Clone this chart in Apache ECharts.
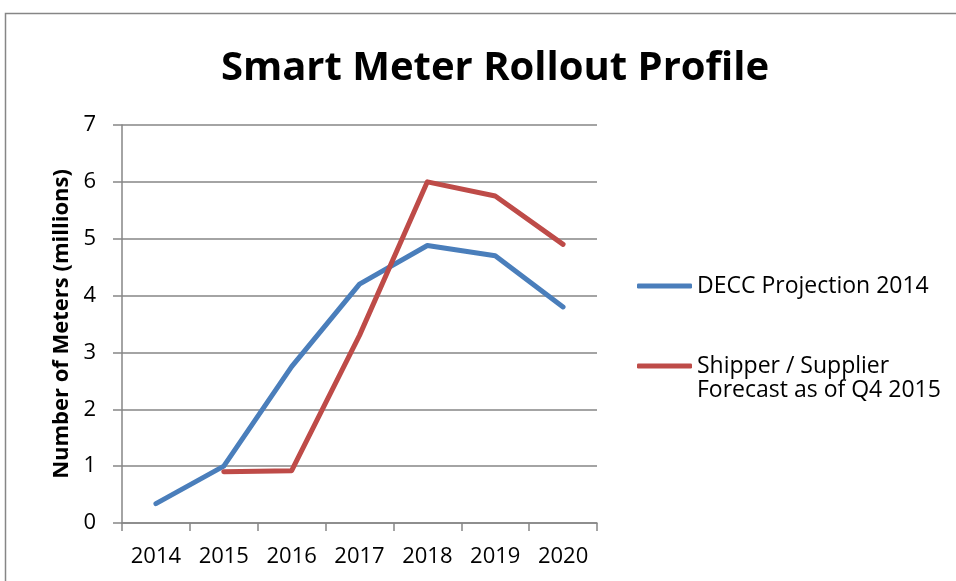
<!DOCTYPE html>
<html>
<head>
<meta charset="utf-8">
<script src="https://cdn.jsdelivr.net/npm/echarts@6/dist/echarts.min.js"></script>
<style>
  html, body { margin: 0; padding: 0; background: #fff; }
  #main { width: 956px; height: 581px; }
</style>
</head>
<body>
<div id="main"></div>
<script>
// values
var years = ['2014', '2015', '2016', '2017', '2018', '2019', '2020'];
var decc = [0.34, 1.0, 2.75, 4.2, 4.88, 4.7, 3.8];
var shipper = [null, 0.9, 0.92, 3.3, 6.0, 5.75, 4.9];
var yTicks = [0, 1, 2, 3, 4, 5, 6, 7];
var deccName = 'DECC Projection 2014';
var shipperName = 'Shipper / Supplier\nForecast as of Q4 2015';

var font = 'Open Sans';
var grey = '#868686';

var chartDom = document.getElementById('main');
var myChart = echarts.init(chartDom);
var option = {
  animation: false,
  textStyle: { fontFamily: font, color: '#000' },
  title: {
    text: 'Smart Meter Rollout Profile',
    left: 490,
    textAlign: 'center',
    top: 44,
    textStyle: { fontFamily: font, fontWeight: 'bold', fontSize: 40, color: '#000' }
  },
  graphic: [{
    type: 'rect',
    shape: { x: 5.5, y: 13.5, width: 1000, height: 700 },
    style: { fill: 'none', stroke: grey, lineWidth: 1.5 },
    silent: true
  }],
  legend: {
    orient: 'vertical',
    left: 637,
    top: 274,
    padding: 0,
    itemWidth: 55,
    itemHeight: 5,
    itemGap: 32,
    icon: 'roundRect',
    textStyle: { fontFamily: font, fontSize: 23, color: '#000', lineHeight: 24 },
    // blank first line keeps the icon level with "Shipper / Supplier"
    formatter: function (name) {
      return name === shipperName ? ' \n' + name : name;
    },
    data: [deccName, shipperName]
  },
  grid: { left: 122, right: 359, top: 125, bottom: 58, containLabel: false },
  xAxis: {
    type: 'category',
    data: years,
    boundaryGap: true,
    axisLine: { lineStyle: { color: grey, width: 1.5 } },
    axisTick: { show: true, length: 8, lineStyle: { color: grey, width: 1.5 } },
    axisLabel: { fontFamily: font, fontSize: 22, color: '#000', margin: 23 },
    splitLine: { show: false }
  },
  yAxis: {
    type: 'value',
    min: 0,
    max: 7,
    interval: 1,
    name: 'Number of Meters (millions)',
    nameLocation: 'middle',
    nameGap: 49,
    nameTextStyle: { fontFamily: font, fontWeight: 'bold', fontSize: 22, color: '#000' },
    axisLine: { show: true, lineStyle: { color: grey, width: 1.5 } },
    axisTick: { show: true, length: 9, lineStyle: { color: grey, width: 1.5 } },
    axisLabel: {
      fontFamily: font, fontSize: 22, color: '#000', margin: 26,
      formatter: function (v) { return yTicks.indexOf(v) >= 0 ? String(v) : ''; }
    },
    splitLine: { show: true, lineStyle: { color: grey, width: 1.5 } }
  },
  series: [
    {
      name: deccName,
      type: 'line',
      data: decc,
      symbol: 'none',
      lineStyle: { color: '#4A7EBB', width: 5, cap: 'round', join: 'round' },
      itemStyle: { color: '#4A7EBB' }
    },
    {
      name: shipperName,
      type: 'line',
      data: shipper,
      symbol: 'none',
      lineStyle: { color: '#BE4B48', width: 5, cap: 'round', join: 'round' },
      itemStyle: { color: '#BE4B48' }
    }
  ]
};
myChart.setOption(option);
window.addEventListener('resize', function () {
  myChart.resize();
});
</script>
</body>
</html>
